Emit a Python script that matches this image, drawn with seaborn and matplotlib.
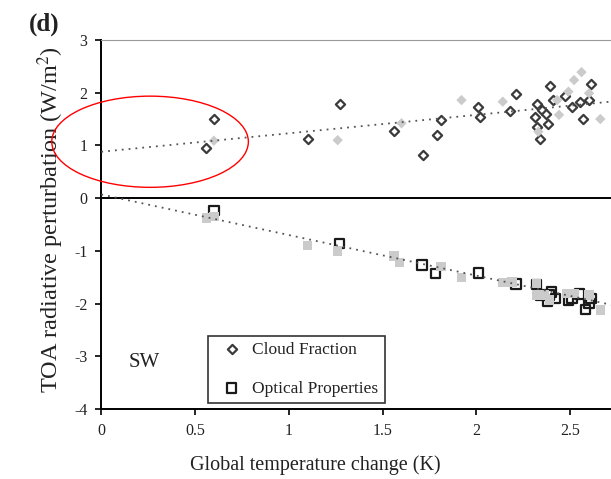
import numpy as np
import pandas as pd
import matplotlib
matplotlib.use("Agg")
import matplotlib.pyplot as plt
from matplotlib.patches import Ellipse
import seaborn as sns

# ---- data ----
cf_dark_x = [0.56, 0.60, 1.10, 1.27, 1.56, 1.715, 1.79, 1.81, 2.01, 2.02, 2.18, 2.21, 2.32, 2.31,
             2.32, 2.35, 2.34, 2.37, 2.38, 2.39, 2.41, 2.47, 2.51, 2.55, 2.57, 2.61, 2.60]
cf_dark_y = [0.96, 1.51, 1.12, 1.79, 1.28, 0.82, 1.19, 1.49, 1.73, 1.53, 1.66, 1.97, 1.79, 1.53,
             1.35, 1.67, 1.12, 1.59, 1.41, 2.13, 1.87, 1.94, 1.73, 1.83, 1.50, 2.16, 1.86]
cf_gray_x = [0.60, 1.26, 1.60, 1.92, 2.14, 2.33, 2.44, 2.43, 2.49, 2.52, 2.56, 2.60, 2.66]
cf_gray_y = [1.09, 1.10, 1.42, 1.86, 1.83, 1.26, 1.58, 1.86, 2.02, 2.24, 2.39, 1.99, 1.50]

op_dark_x = [0.60, 1.27, 1.71, 1.78, 2.01, 2.21, 2.32, 2.34, 2.39, 2.40, 2.38, 2.42, 2.49, 2.51,
             2.55, 2.58, 2.60, 2.61]
op_dark_y = [-0.23, -0.86, -1.27, -1.43, -1.42, -1.63, -1.64, -1.84, -1.84, -1.78, -1.95, -1.90,
             -1.93, -1.90, -1.82, -2.11, -2.00, -1.90]
op_gray_x = [0.56, 0.60, 1.10, 1.26, 1.56, 1.59, 1.81, 1.92, 2.14, 2.19, 2.32, 2.36, 2.32, 2.39,
             2.48, 2.52, 2.60, 2.66]
op_gray_y = [-0.38, -0.35, -0.90, -1.00, -1.10, -1.22, -1.30, -1.50, -1.60, -1.59, -1.62, -1.84,
             -1.84, -1.93, -1.81, -1.81, -1.84, -2.12]

cf_fit = [0.35, 0.88]    # slope, intercept
op_fit = [-0.77, 0.07]

x_ticks = [0, 0.5, 1, 1.5, 2, 2.5]
x_tick_labels = ["0", "0.5", "1", "1.5", "2", "2.5"]
y_ticks = [-4, -3, -2, -1, 0, 1, 2, 3]
y_tick_labels = ["-4", "-3", "-2", "-1", "0", "1", "2", "3"]
legend_labels = ["Cloud Fraction", "Optical Properties"]

sns.set_theme(style="white")
plt.rcParams["font.family"] = ["Liberation Serif", "DejaVu Serif"]
plt.rcParams["mathtext.fontset"] = "stix"

fig = plt.figure(figsize=(6.11, 4.79), dpi=100)
W, H = 611, 479
AX_L, AX_T, AX_B = 101.3, 40, 409
ax = fig.add_axes([AX_L / W, 1 - AX_B / H, (W - AX_L) / W, (AX_B - AX_T) / H])
AW, AH = W - AX_L, AX_B - AX_T

df_cfd = pd.DataFrame({"x": cf_dark_x, "y": cf_dark_y})
df_cfg = pd.DataFrame({"x": cf_gray_x, "y": cf_gray_y})
df_opd = pd.DataFrame({"x": op_dark_x, "y": op_dark_y})
df_opg = pd.DataFrame({"x": op_gray_x, "y": op_gray_y})

sns.scatterplot(data=df_cfd, x="x", y="y", marker="D", s=22, facecolor="white",
                edgecolor="#3a3a3a", linewidth=1.6, ax=ax, zorder=2, label=legend_labels[0])
sns.scatterplot(data=df_opd, x="x", y="y", marker="s", s=46, facecolor="none",
                edgecolor="#1a1a1a", linewidth=1.6, ax=ax, zorder=2, label=legend_labels[1])
sns.scatterplot(data=df_cfg, x="x", y="y", marker="D", s=28, color="#cbcbcb",
                edgecolor="none", linewidth=0, ax=ax, zorder=3, legend=False)
sns.scatterplot(data=df_opg, x="x", y="y", marker="s", s=46, color="#cbcbcb",
                edgecolor="none", linewidth=0, ax=ax, zorder=3, legend=False)

xline = np.linspace(0, 2.72, 50)
sns.lineplot(x=xline, y=np.polyval(cf_fit, xline), ax=ax, color="#555555", lw=1.3,
             linestyle=(0, (1, 2.8)), zorder=4, legend=False)
sns.lineplot(x=xline, y=np.polyval(op_fit, xline), ax=ax, color="#555555", lw=1.3,
             linestyle=(0, (1, 2.8)), zorder=4, legend=False)

ax.axhline(0, color="black", lw=1.4, zorder=1)

ax.set_xlim(0, 2.717)
ax.set_ylim(-4, 3)
ax.set_xticks(x_ticks)
ax.set_xticklabels(x_tick_labels)
ax.set_yticks(y_ticks)
ax.set_yticklabels(y_tick_labels)
ax.tick_params(axis="both", direction="out", length=4, width=1.2, colors="black",
               labelsize=11.5, labelcolor="#222222", pad=6)
ax.tick_params(axis="x", bottom=True)
ax.tick_params(axis="y", left=True)

for side in ["left", "bottom"]:
    ax.spines[side].set_color("black")
    ax.spines[side].set_linewidth(1.4)
ax.spines["top"].set_color("#999999")
ax.spines["top"].set_linewidth(0.8)
ax.spines["right"].set_visible(False)

ax.set_xlabel("Global temperature change (K)", fontsize=14.5, color="#222222")
ax.xaxis.set_label_coords((315 - AX_L) / AW, (AX_B - 465) / AH)
ax.xaxis.label.set_va("center")
ax.set_ylabel("TOA radiative perturbation (W/m$^2$)", fontsize=17.5, color="#222222")
ax.yaxis.set_label_coords((51 - AX_L) / AW, (AX_B - 220) / AH)
ax.yaxis.label.set_va("center")

ax.text(0.23, -3.11, "SW", fontsize=15, ha="center", va="center", color="#222222")
fig.text(44 / W, 1 - 24 / H, "(d)", fontsize=18, fontweight="bold", ha="center", va="center",
         color="#222222")

ell = Ellipse((0.26, 1.07), width=1.048, height=1.73, fill=False, edgecolor="red", lw=1.0,
              clip_on=False, zorder=5)
ax.add_patch(ell)

leg = ax.legend(loc="lower left", bbox_to_anchor=((208 - AX_L) / AW, (AX_B - 403) / AH),
                borderaxespad=0, frameon=True, fancybox=False,
                edgecolor="black", fontsize=12.5, handletextpad=0.2, borderpad=0.36,
                labelspacing=1.3, handlelength=2.0)
leg.get_frame().set_linewidth(1.2)
for t in leg.get_texts():
    t.set_color("#222222")

fig.savefig("out.png", dpi=100)
